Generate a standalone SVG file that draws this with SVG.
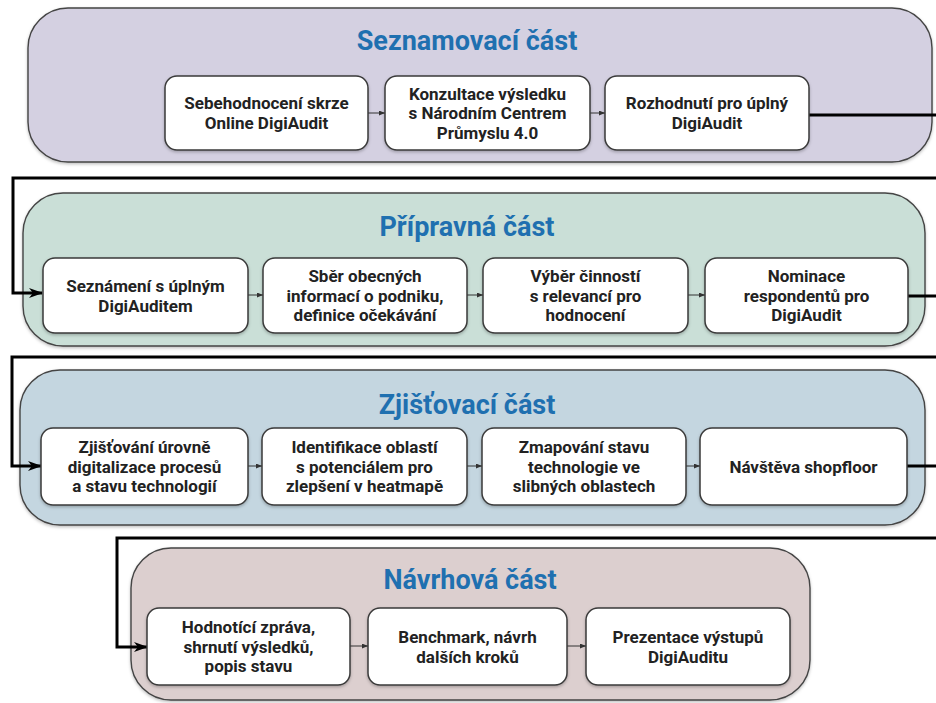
<svg xmlns="http://www.w3.org/2000/svg" width="936" height="703" viewBox="0 0 936 703">
<defs>
<style>
.panel{stroke:#444;stroke-width:1.4}
.p1{fill:#d4d0e1}.p2{fill:#cadfd7}.p3{fill:#c4d6e0}.p4{fill:#dccfcf}
.box{fill:#ffffff;stroke:#3a3a3a;stroke-width:1.5}
.title{font-family:Roboto,"Liberation Sans",sans-serif;font-weight:700;font-size:27px;fill:#1f70b0;text-anchor:middle}
.t{font-family:Roboto,"Liberation Sans",sans-serif;font-weight:700;font-size:17px;fill:#222;text-anchor:middle}
.big{fill:none;stroke:#000;stroke-width:3}
.small{fill:none;stroke:#333;stroke-width:1}
</style>
<marker id="ah" markerWidth="14" markerHeight="10" refX="13" refY="5" orient="auto" markerUnits="userSpaceOnUse">
<path d="M0,0 L14,5 L0,10 L4,5 z" fill="#000"/>
</marker>
<marker id="as" markerWidth="6" markerHeight="5" refX="6" refY="2.5" orient="auto" markerUnits="userSpaceOnUse">
<path d="M0,0 L6,2.5 L0,5 z" fill="#333"/>
</marker>
<filter id="sh" x="-5%" y="-5%" width="110%" height="120%">
<feDropShadow dx="0" dy="1.5" stdDeviation="1.5" flood-color="#000" flood-opacity="0.25"/>
</filter>
</defs>
<rect width="936" height="703" fill="#ffffff"/>

<g id="panel1">
<rect class="panel p1" x="28" y="8" width="904" height="154" rx="40" filter="url(#sh)"/>
<text class="title" x="467" y="50">Seznamovací část</text>
</g>
<g id="panel2">
<rect class="panel p2" x="23" y="193" width="902" height="153" rx="40" filter="url(#sh)"/>
<text class="title" x="467" y="236">Přípravná část</text>
</g>
<g id="panel3">
<rect class="panel p3" x="20" y="370" width="905" height="155" rx="40" filter="url(#sh)"/>
<text class="title" x="467" y="414">Zjišťovací část</text>
</g>
<g id="panel4">
<rect class="panel p4" x="131" y="548" width="679" height="152" rx="40" filter="url(#sh)"/>
<text class="title" x="470" y="589">Návrhová část</text>
</g>

<g id="connectors">
<path class="big" d="M809,115 H950 V178 H13 V293 H42" marker-end="url(#ah)"/>
<path class="big" d="M908,296 H950 V357 H12 V466 H41" marker-end="url(#ah)"/>
<path class="big" d="M907,466 H950 V538 H117 V647 H147" marker-end="url(#ah)"/>
<path class="small" d="M368,113 H385" marker-end="url(#as)"/>
<path class="small" d="M590,113 H605" marker-end="url(#as)"/>
<path class="small" d="M248,295 H263" marker-end="url(#as)"/>
<path class="small" d="M467,295 H483" marker-end="url(#as)"/>
<path class="small" d="M688,295 H705" marker-end="url(#as)"/>
<path class="small" d="M248,466 H262" marker-end="url(#as)"/>
<path class="small" d="M467,466 H482" marker-end="url(#as)"/>
<path class="small" d="M686,466 H700" marker-end="url(#as)"/>
<path class="small" d="M350,646 H368" marker-end="url(#as)"/>
<path class="small" d="M567,646 H586" marker-end="url(#as)"/>
</g>

<g id="n1">
<rect class="box" x="165" y="76" width="203" height="74" rx="12" filter="url(#sh)"/>
<text class="t" x="266.5" y="109">Sebehodnocení skrze</text>
<text class="t" x="266.5" y="129">Online DigiAudit</text>
</g>
<g id="n2">
<rect class="box" x="385" y="76" width="205" height="74" rx="12" filter="url(#sh)"/>
<text class="t" x="487.5" y="99.5">Konzultace výsledku</text>
<text class="t" x="487.5" y="119">s Národním Centrem</text>
<text class="t" x="487.5" y="138.5">Průmyslu 4.0</text>
</g>
<g id="n3">
<rect class="box" x="605" y="76" width="204" height="74" rx="12" filter="url(#sh)"/>
<text class="t" x="707" y="109">Rozhodnutí pro úplný</text>
<text class="t" x="707" y="129">DigiAudit</text>
</g>

<g id="n4">
<rect class="box" x="43" y="258" width="205" height="75" rx="12" filter="url(#sh)"/>
<text class="t" x="145.5" y="292">Seznámení s úplným</text>
<text class="t" x="145.5" y="311.5">DigiAuditem</text>
</g>
<g id="n5">
<rect class="box" x="263" y="258" width="204" height="75" rx="12" filter="url(#sh)"/>
<text class="t" x="365" y="282">Sběr obecných</text>
<text class="t" x="365" y="301.5">informací o podniku,</text>
<text class="t" x="365" y="321">definice očekávání</text>
</g>
<g id="n6">
<rect class="box" x="483" y="258" width="205" height="75" rx="12" filter="url(#sh)"/>
<text class="t" x="585.5" y="282">Výběr činností</text>
<text class="t" x="585.5" y="301.5">s relevancí pro</text>
<text class="t" x="585.5" y="321">hodnocení</text>
</g>
<g id="n7">
<rect class="box" x="705" y="258" width="203" height="75" rx="12" filter="url(#sh)"/>
<text class="t" x="806.5" y="282">Nominace</text>
<text class="t" x="806.5" y="301.5">respondentů pro</text>
<text class="t" x="806.5" y="321">DigiAudit</text>
</g>

<g id="n8">
<rect class="box" x="41" y="428" width="207" height="77" rx="12" filter="url(#sh)"/>
<text class="t" x="144.5" y="453">Zjišťování úrovně</text>
<text class="t" x="144.5" y="472.5">digitalizace procesů</text>
<text class="t" x="144.5" y="492">a stavu technologií</text>
</g>
<g id="n9">
<rect class="box" x="262" y="428" width="205" height="77" rx="12" filter="url(#sh)"/>
<text class="t" x="364.5" y="453">Identifikace oblastí</text>
<text class="t" x="364.5" y="472.5">s potenciálem pro</text>
<text class="t" x="364.5" y="492">zlepšení v heatmapě</text>
</g>
<g id="n10">
<rect class="box" x="482" y="428" width="204" height="77" rx="12" filter="url(#sh)"/>
<text class="t" x="584" y="453">Zmapování stavu</text>
<text class="t" x="584" y="472.5">technologie ve</text>
<text class="t" x="584" y="492">slibných oblastech</text>
</g>
<g id="n11">
<rect class="box" x="700" y="428" width="207" height="77" rx="12" filter="url(#sh)"/>
<text class="t" x="803.5" y="472.5">Návštěva shopfloor</text>
</g>

<g id="n12">
<rect class="box" x="147" y="608" width="203" height="77" rx="12" filter="url(#sh)"/>
<text class="t" x="248.5" y="633">Hodnotící zpráva,</text>
<text class="t" x="248.5" y="652.5">shrnutí výsledků,</text>
<text class="t" x="248.5" y="672">popis stavu</text>
</g>
<g id="n13">
<rect class="box" x="368" y="608" width="199" height="77" rx="12" filter="url(#sh)"/>
<text class="t" x="467.5" y="643">Benchmark, návrh</text>
<text class="t" x="467.5" y="662.5">dalších kroků</text>
</g>
<g id="n14">
<rect class="box" x="586" y="608" width="204" height="77" rx="12" filter="url(#sh)"/>
<text class="t" x="688" y="643">Prezentace výstupů</text>
<text class="t" x="688" y="662.5">DigiAuditu</text>
</g>
</svg>
